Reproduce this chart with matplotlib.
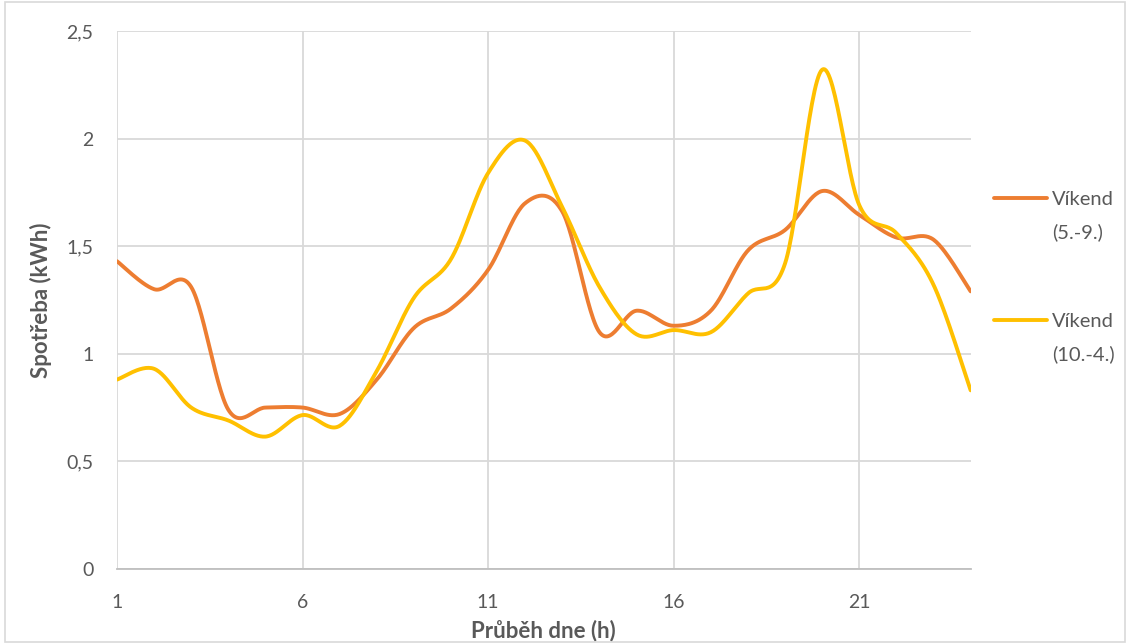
import numpy as np
import matplotlib.pyplot as plt
from matplotlib.ticker import FuncFormatter

# hodinove spotreby o vikendu
hours = list(range(1, 25))
leto = [1.43, 1.30, 1.31, 0.74, 0.75, 0.75, 0.72, 0.88, 1.12, 1.21, 1.39, 1.70,
        1.66, 1.10, 1.20, 1.13, 1.20, 1.48, 1.575, 1.756, 1.645, 1.54, 1.53, 1.29]
zima = [0.88, 0.93, 0.75, 0.69, 0.615, 0.715, 0.665, 0.92, 1.26, 1.44, 1.84, 1.99,
        1.68, 1.31, 1.09, 1.11, 1.10, 1.28, 1.42, 2.32, 1.69, 1.56, 1.32, 0.83]
names = ['Víkend', 'Víkend']
periods = ['(5.-9.)', '(10.-4.)']


def smooth(x, y, n=30):
    # Catmull-Rom pres body, podobne jako vyhlazena cara v Excelu
    x = np.asarray(x, float)
    y = np.asarray(y, float)
    px = np.concatenate([[x[0]], x, [x[-1]]])
    py = np.concatenate([[y[0]], y, [y[-1]]])
    xs, ys = [], []
    t = np.linspace(0, 1, n)
    for i in range(1, len(px) - 2):
        p0 = np.array([px[i], py[i]])
        p3 = np.array([px[i + 1], py[i + 1]])
        c1 = p0 + (np.array([px[i + 1], py[i + 1]]) - np.array([px[i - 1], py[i - 1]])) / 6
        c2 = p3 - (np.array([px[i + 2], py[i + 2]]) - np.array([px[i], py[i]])) / 6
        b = ((1 - t) ** 3)[:, None] * p0 + (3 * (1 - t) ** 2 * t)[:, None] * c1 \
            + (3 * (1 - t) * t ** 2)[:, None] * c2 + (t ** 3)[:, None] * p3
        xs.append(b[:, 0])
        ys.append(b[:, 1])
    return np.concatenate(xs), np.concatenate(ys)


plt.rcParams['font.family'] = ['Lato', 'DejaVu Sans']
grey = '#595959'

fig = plt.figure(figsize=(11.3, 6.44), dpi=100)
ax = fig.add_axes([0.1035, 0.1165, 0.7555, 0.8355])

lines = []
for vals, col in [(leto, '#ED7D31'), (zima, '#FFC000')]:
    sx, sy = smooth(hours, vals)
    lines += ax.plot(sx, sy, color=col, lw=2.8, solid_capstyle='round')

ax.set_xlim(1, 24)
ax.set_ylim(0, 2.5)
ax.set_xticks([1, 6, 11, 16, 21])
ax.set_yticks(np.arange(0, 2.51, 0.5))
ax.yaxis.set_major_formatter(FuncFormatter(lambda v, p: ('%g' % v).replace('.', ',')))
ax.grid(True, color='#d9d9d9', lw=1.3)
ax.set_axisbelow(True)
for s in ['top', 'right', 'left']:
    ax.spines[s].set_visible(False)
ax.spines['bottom'].set_color('#bfbfbf')
ax.spines['bottom'].set_linewidth(1.3)
ax.tick_params(length=0, labelsize=14, colors=grey)
ax.tick_params(axis='x', pad=18)
ax.tick_params(axis='y', pad=17)

ax.set_xlabel('Průběh dne (h)', fontsize=16, fontweight='bold', color=grey, labelpad=6)
ax.set_ylabel('Spotřeba (kWh)', fontsize=16, fontweight='bold', color=grey, labelpad=10)

leg = fig.legend(lines, names, loc='upper left', bbox_to_anchor=(0.864, 0.731),
                 frameon=False, fontsize=14.5, labelcolor=grey, handlelength=2.6,
                 handletextpad=0.25, labelspacing=5.2)

# druhy radek popisku legendy pod nazvem
fig.canvas.draw()
W, H = fig.bbox.width, fig.bbox.height
for t, per in zip(leg.get_texts(), periods):
    bb = t.get_window_extent()
    fig.text(bb.x0 / W, (bb.y0 - 30) / H, per, fontsize=14.5, color=grey)

# ramecek grafu
fig.patches.append(plt.Rectangle((0.004, 0.003), 0.992, 0.994, transform=fig.transFigure,
                                 fill=False, edgecolor='#d9d9d9', lw=1.2))

fig.savefig('out.png', dpi=100)
